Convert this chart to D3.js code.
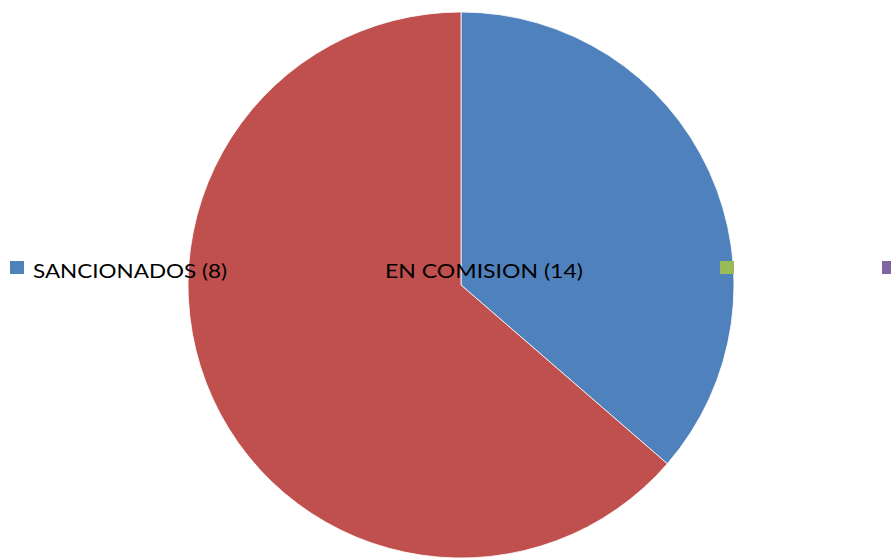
<!DOCTYPE html>
<html>
<head>
<meta charset="utf-8">
<script src="https://cdn.jsdelivr.net/npm/d3@7"></script>
<style>
  body { margin: 0; background: #fff; }
  svg { display: block; }
</style>
</head>
<body>
<svg id="chart" width="891" height="560"></svg>
<script>
const categories = ['SANCIONADOS (8)', 'EN COMISION (14)', '', '']
const values = [8, 14, 0, 0]
const colors = ['#4F81BD', '#C0504D', '#9BBB59', '#8064A2']

const width = 891
const height = 560
const svg = d3.select('#chart')
const cx = 461, cy = 285, radius = 273

const pie = d3.pie().sort(null).value(d => d.value)
const arc = d3.arc().innerRadius(0).outerRadius(radius)
const data = categories.map((c, i) => ({ label: c, value: values[i], color: colors[i] }))

svg.append('g')
    .attr('transform', `translate(${cx},${cy})`)
    .selectAll('path')
    .data(pie(data).filter(d => d.data.value > 0))
    .join('path')
    .attr('d', arc)
    .attr('fill', d => d.data.color)
    .attr('stroke', '#fff')
    .attr('stroke-width', 0.8)

// legend laid out in one row across the middle, over the pie
const legendX = [10, 362, 720, 882]
const legendWidths = [194, 198, 0, 0]
const legend = svg.append('g')
    .selectAll('g')
    .data(data)
    .join('g')
    .attr('transform', (d, i) => `translate(${legendX[i]},261)`)
legend.append('rect')
    .attr('width', 14)
    .attr('height', 13)
    .attr('fill', d => d.color)
legend.filter(d => d.label)
    .append('text')
    .attr('x', 23)
    .attr('y', 17)
    .attr('font-family', 'Lato, "Open Sans", sans-serif')
    .attr('font-size', 19.5)
    .attr('fill', '#000')
    .attr('textLength', (d, i) => legendWidths[i])
    .attr('lengthAdjust', 'spacingAndGlyphs')
    .text(d => d.label)
</script>
</body>
</html>
